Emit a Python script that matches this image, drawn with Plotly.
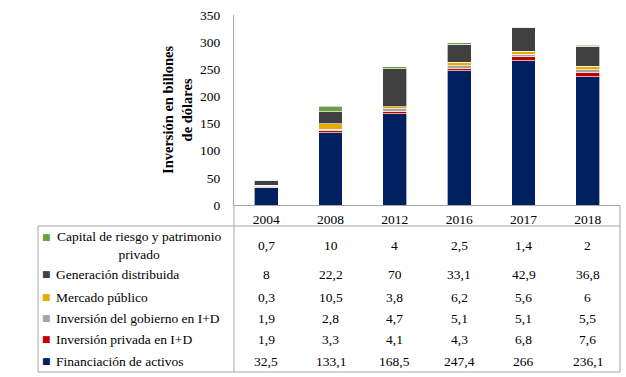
import plotly.graph_objects as go

W, H = 626, 377

categories = ["2004", "2008", "2012", "2016", "2017", "2018"]

series_names = [
    "Financiación de activos",
    "Inversión privada en I+D",
    "Inversión del gobierno en I+D",
    "Mercado público",
    "Generación distribuida",
    "Capital de riesgo y patrimonio privado",
]
financiacion = [32.5, 133.1, 168.5, 247.4, 266, 236.1]
privada_id = [1.9, 3.3, 4.1, 4.3, 6.8, 7.6]
gobierno_id = [1.9, 2.8, 4.7, 5.1, 5.1, 5.5]
mercado = [0.3, 10.5, 3.8, 6.2, 5.6, 6]
generacion = [8, 22.2, 70, 33.1, 42.9, 36.8]
capital = [0.7, 10, 4, 2.5, 1.4, 2]

series_values = [financiacion, privada_id, gobierno_id, mercado, generacion, capital]
colors = ["#002060", "#C00000", "#A5A5A5", "#E6AC00", "#404040", "#6A9F45"]

# table labels (top row first)
table_labels = [
    "Capital de riesgo y patrimonio<br>privado",
    "Generación distribuida",
    "Mercado público",
    "Inversión del gobierno en I+D",
    "Inversión privada en I+D",
    "Financiación de activos",
]
table_rows = [capital, generacion, mercado, gobierno_id, privada_id, financiacion]
table_colors = ["#6A9F45", "#404040", "#E6AC00", "#A5A5A5", "#C00000", "#002060"]
row_pix = [245, 274, 297, 318, 339, 361]

def px(x):
    return x / W

def py(y):
    return (H - y) / H

FONT = "Liberation Serif"
fs = 13.5

fig = go.Figure()
for name, vals, c in zip(series_names, series_values, colors):
    fig.add_trace(go.Bar(
        x=categories, y=vals, name=name,
        marker=dict(color=c, line=dict(color="rgba(255,255,255,0.8)", width=0.8)),
        showlegend=False,
    ))

def fmt(v):
    return ("%g" % v).replace(".", ",")

annotations = []
for lab, vals, c, yp in zip(table_labels, table_rows, table_colors, row_pix):
    for i, v in enumerate(vals):
        annotations.append(dict(
            x=i, xref="x", y=py(yp), yref="paper", text=fmt(v),
            showarrow=False, font=dict(family=FONT, size=fs, color="#000000"),
            xanchor="center", yanchor="middle",
        ))
    if "<br>" in lab:
        annotations.append(dict(
            x=px(139), xref="paper", y=py(yp), yref="paper", text=lab,
            showarrow=False, align="center",
            font=dict(family=FONT, size=fs, color="#000000"),
            xanchor="center", yanchor="middle",
        ))
        key_y = yp - 8
    else:
        annotations.append(dict(
            x=px(54), xref="paper", y=py(yp), yref="paper", text=lab,
            showarrow=False, align="left",
            font=dict(family=FONT, size=fs, color="#000000"),
            xanchor="left", yanchor="middle",
        ))
        key_y = yp
    annotations.append(dict(
        x=px(46.5), xref="paper", y=py(key_y), yref="paper", text="■",
        showarrow=False, font=dict(family="DejaVu Sans", size=9, color=c),
        xanchor="center", yanchor="middle",
    ))

annotations.append(dict(
    x=px(178), xref="paper", y=py(110), yref="paper",
    text="<b>Inversión en billones<br>de dólares</b>", textangle=-90,
    showarrow=False, align="center",
    font=dict(family=FONT, size=14.5, color="#000000"),
    xanchor="center", yanchor="middle",
))

lc = "#A6A6A6"
shapes = [
    dict(type="line", xref="paper", yref="paper", x0=px(38), x1=px(620), y0=py(226), y1=py(226), line=dict(color=lc, width=1)),
    dict(type="line", xref="paper", yref="paper", x0=px(38), x1=px(620), y0=py(372), y1=py(372), line=dict(color=lc, width=1)),
    dict(type="line", xref="paper", yref="paper", x0=px(38), x1=px(38), y0=py(226), y1=py(372), line=dict(color=lc, width=1)),
    dict(type="line", xref="paper", yref="paper", x0=px(234), x1=px(234), y0=py(205), y1=py(372), line=dict(color=lc, width=1)),
    dict(type="line", xref="paper", yref="paper", x0=px(620), x1=px(620), y0=py(205), y1=py(372), line=dict(color=lc, width=1)),
]

fig.update_layout(
    width=W, height=H,
    margin=dict(l=0, r=0, t=0, b=0, autoexpand=False),
    paper_bgcolor="white", plot_bgcolor="white",
    barmode="stack", bargap=0.63,
    font=dict(family=FONT, size=fs, color="#000000"),
    xaxis=dict(
        domain=[px(234), px(620)], type="category", range=[-0.5, 5.5],
        showline=True, linecolor=lc, linewidth=1, ticks="",
        showgrid=False, tickfont=dict(family=FONT, size=fs, color="#000000"),
        ticklabelstandoff=2, automargin=False,
    ),
    yaxis=dict(
        domain=[py(205), py(15)], range=[0, 350],
        tickvals=[0, 50, 100, 150, 200, 250, 300, 350],
        showline=True, linecolor=lc, linewidth=1, ticks="",
        showgrid=False, zeroline=False,
        tickfont=dict(family=FONT, size=fs, color="#000000"),
        ticklabelstandoff=10, automargin=False,
    ),
    annotations=annotations,
    shapes=shapes,
)

fig.write_html("out.html", config={"displayModeBar": False},
               post_script="document.body.style.margin='0';")
